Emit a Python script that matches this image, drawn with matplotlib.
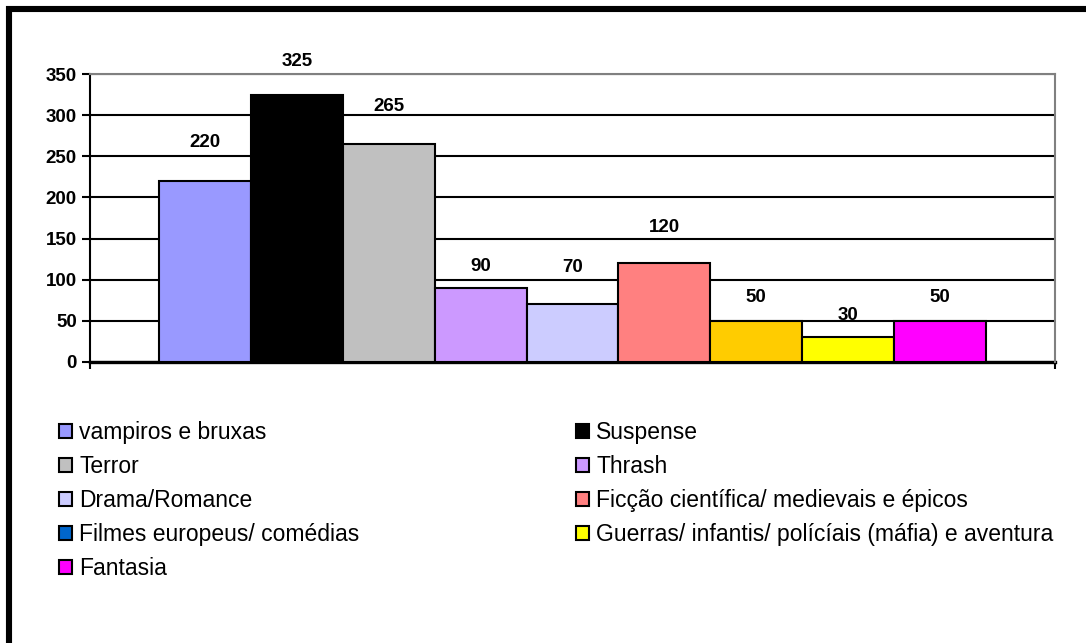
import matplotlib
matplotlib.use("Agg")
import matplotlib.pyplot as plt
from matplotlib.patches import Patch
from matplotlib.lines import Line2D

plt.rcParams['font.family'] = ['Liberation Sans', 'DejaVu Sans']

generos = ['vampiros e bruxas', 'Suspense', 'Terror', 'Thrash', 'Drama/Romance',
           'Ficção científica/ medievais e épicos', 'Filmes europeus/ comédias',
           'Guerras/ infantis/ polícíais (máfia) e aventura', 'Fantasia']
votos = [220, 325, 265, 90, 70, 120, 50, 30, 50]
cores_barras = ['#9999FF', '#000000', '#C0C0C0', '#CC99FF', '#CCCCFF',
                '#FF8080', '#FFCC00', '#FFFF00', '#FF00FF']
cores_legenda = ['#9999FF', '#000000', '#C0C0C0', '#CC99FF', '#CCCCFF',
                 '#FF8080', '#0066CC', '#FFFF00', '#FF00FF']
# distancia (px) do rotulo ate o topo de cada barra
desloc_rotulo = [39, 33, 38, 21, 37, 36, 23, 22, 23]
yticks = [0, 50, 100, 150, 200, 250, 300, 350]

W, H = 1086, 643
fig = plt.figure(figsize=(W / 100, H / 100), dpi=100)
fig.patch.set_facecolor('white')

def fx(px):
    return px / W

def fy(py):
    return 1 - py / H

# moldura preta (so topo e lado esquerdo aparecem)
fig.add_artist(Line2D([fx(6), fx(1090)], [fy(9), fy(9)], color='black', lw=4.4,
                      transform=fig.transFigure, solid_capstyle='butt'))
fig.add_artist(Line2D([fx(9), fx(9)], [fy(6), fy(650)], color='black', lw=4.4,
                      transform=fig.transFigure, solid_capstyle='butt'))

ax = fig.add_axes([fx(90), fy(361.7), (1055 - 90) / W, (361.7 - 74.3) / H])
pos = list(range(len(votos)))
ax.bar(pos, votos, width=1.0, color=cores_barras, edgecolor='black', linewidth=1.5, zorder=3)

ax.set_xlim(-1.25, len(votos) + 0.25)
ax.set_ylim(0, 350)
ax.set_yticks(yticks)
ax.set_yticklabels([str(v) for v in yticks], fontsize=13.5, fontweight='bold')
ax.set_xticks([-1.25, len(votos) + 0.25])
ax.set_xticklabels(['', ''])
ax.tick_params(axis='y', direction='out', length=6, width=1.5, pad=3.5)
ax.tick_params(axis='x', direction='out', length=5, width=1.5)

ax.set_axisbelow(True)
ax.yaxis.grid(True, color='black', linewidth=1.5)
ax.spines['left'].set_linewidth(1.5)
ax.spines['bottom'].set_linewidth(2.4)
for lado in ['top', 'right']:
    ax.spines[lado].set_color('#808080')
    ax.spines[lado].set_linewidth(1.5)
    ax.spines[lado].set_zorder(4)

for x, v, d in zip(pos, votos, desloc_rotulo):
    ax.annotate(str(v), (x, v), xytext=(0, d), textcoords='offset pixels',
                ha='center', va='center', fontsize=13.5, fontweight='bold', zorder=5)

handles = [Patch(facecolor=c, edgecolor='black', linewidth=1.5) for c in cores_legenda]
kw = dict(frameon=False, fontsize=16.5, handlelength=0.58, handleheight=0.58,
          handletextpad=0.3, labelspacing=0.48, borderaxespad=0, borderpad=0,
          loc='upper left')
fig.legend([handles[i] for i in [0, 2, 4, 6, 8]], [generos[i] for i in [0, 2, 4, 6, 8]],
           bbox_to_anchor=(fx(59), fy(421)), **kw)
fig.legend([handles[i] for i in [1, 3, 5, 7]], [generos[i] for i in [1, 3, 5, 7]],
           bbox_to_anchor=(fx(576), fy(421)), **kw)

fig.savefig('out.png', dpi=100, facecolor='white')
